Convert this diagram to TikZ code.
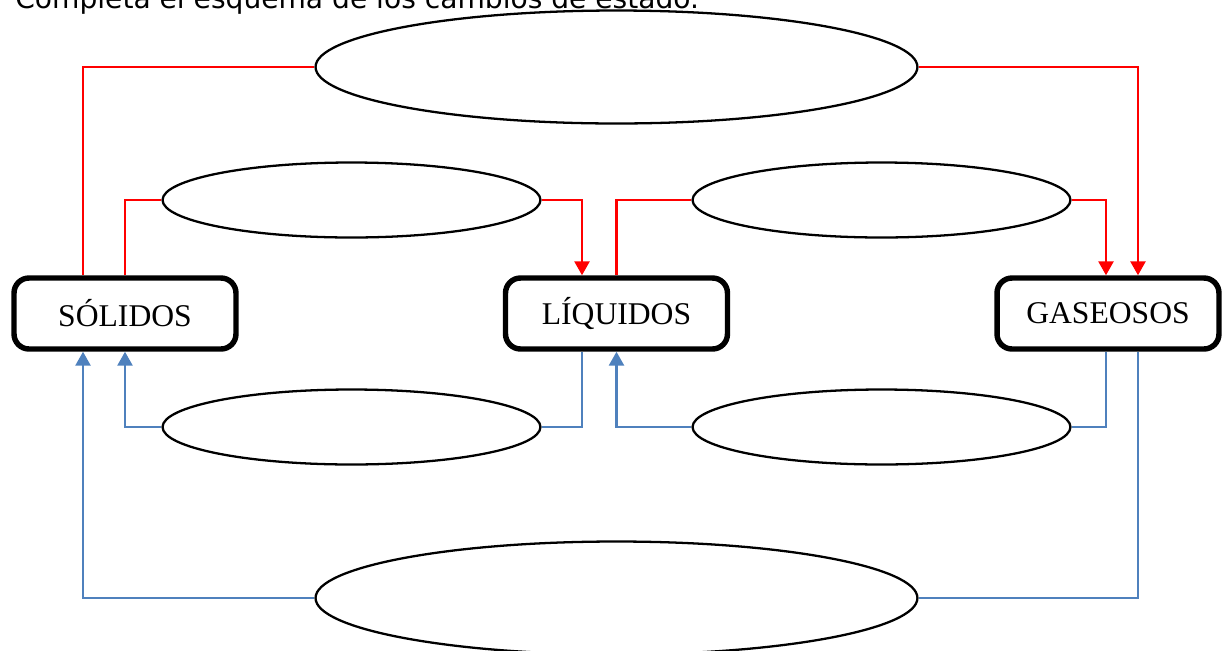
\documentclass[tikz,border=0pt]{standalone}
\usepackage{fontspec}
\setmainfont{Liberation Serif}
\newfontfamily\titlefont{DejaVu Sans}
\usepackage{tikz}
\usetikzlibrary{shapes.geometric}
\usetikzlibrary{arrows.meta,positioning}
\definecolor{rojo}{RGB}{255,0,0}
\definecolor{azul}{RGB}{79,129,189}

\begin{document}
\begin{tikzpicture}[x=0.02cm,y=-0.02cm]
\tikzstyle{estado}=[rectangle,draw=black,line width=3.1pt,rounded corners=0.3cm,minimum width=4.44cm,minimum height=1.42cm,inner sep=0pt,font=\fontsize{18}{22}\selectfont]
\tikzstyle{grande}=[ellipse,draw=black,line width=1.3pt,minimum width=12.04cm,minimum height=2.26cm,inner sep=0pt]
\tikzstyle{hueco}=[ellipse,draw=black,line width=1.3pt,minimum width=7.56cm,minimum height=1.5cm,inner sep=0pt]
\tikzstyle{sube}=[draw=rojo,line width=1.5pt]
\tikzstyle{baja}=[draw=azul,line width=1.5pt]
\tikzstyle{punta}=[-{Triangle[length=0.28cm,width=0.3cm]}]
\useasboundingbox (0,0) rectangle (1232,650);
\node [anchor=base west,inner sep=0pt,font=\titlefont\fontsize{16}{19}\selectfont] (titulo) at(15,8) {Completa el esquema de los cambios de estado.};
\node [estado] (sol) at(125,313.5) {SÓLIDOS};
\node [estado] (liq) at(616.5,313.5) {LÍQUIDOS};
\node [estado] (gas) at(1108,313.5) {GASEOSOS};
\node [grande] (sub) at(616.5,67) {};
\node [hueco] (fus) at(351.5,200) {};
\node [hueco] (eva) at(881.5,200) {};
\node [hueco] (sol2) at(351.5,427) {};
\node [hueco] (con) at(881.5,427) {};
\node [grande] (dep) at(616.5,598) {};
\draw [sube] (sub.west) -| ([xshift=-0.84cm]sol.north);
\draw [sube,punta] (sub.east) -| ([xshift=0.6cm]gas.north);
\draw [sube] (sol.north) |- (fus.west);
\draw [sube,punta] (fus.east) -| ([xshift=-0.69cm]liq.north);
\draw [sube] (liq.north) |- (eva.west);
\draw [sube,punta] (eva.east) -| ([xshift=-0.04cm]gas.north);
\draw [baja] ([xshift=-0.69cm]liq.south) |- (sol2.east);
\draw [baja,punta] (sol2.west) -| (sol.south);
\draw [baja] ([xshift=-0.04cm]gas.south) |- (con.east);
\draw [baja,punta] (con.west) -| (liq.south);
\draw [baja] ([xshift=0.6cm]gas.south) |- (dep.east);
\draw [baja,punta] (dep.west) -| ([xshift=-0.84cm]sol.south);
\end{tikzpicture}
\end{document}
